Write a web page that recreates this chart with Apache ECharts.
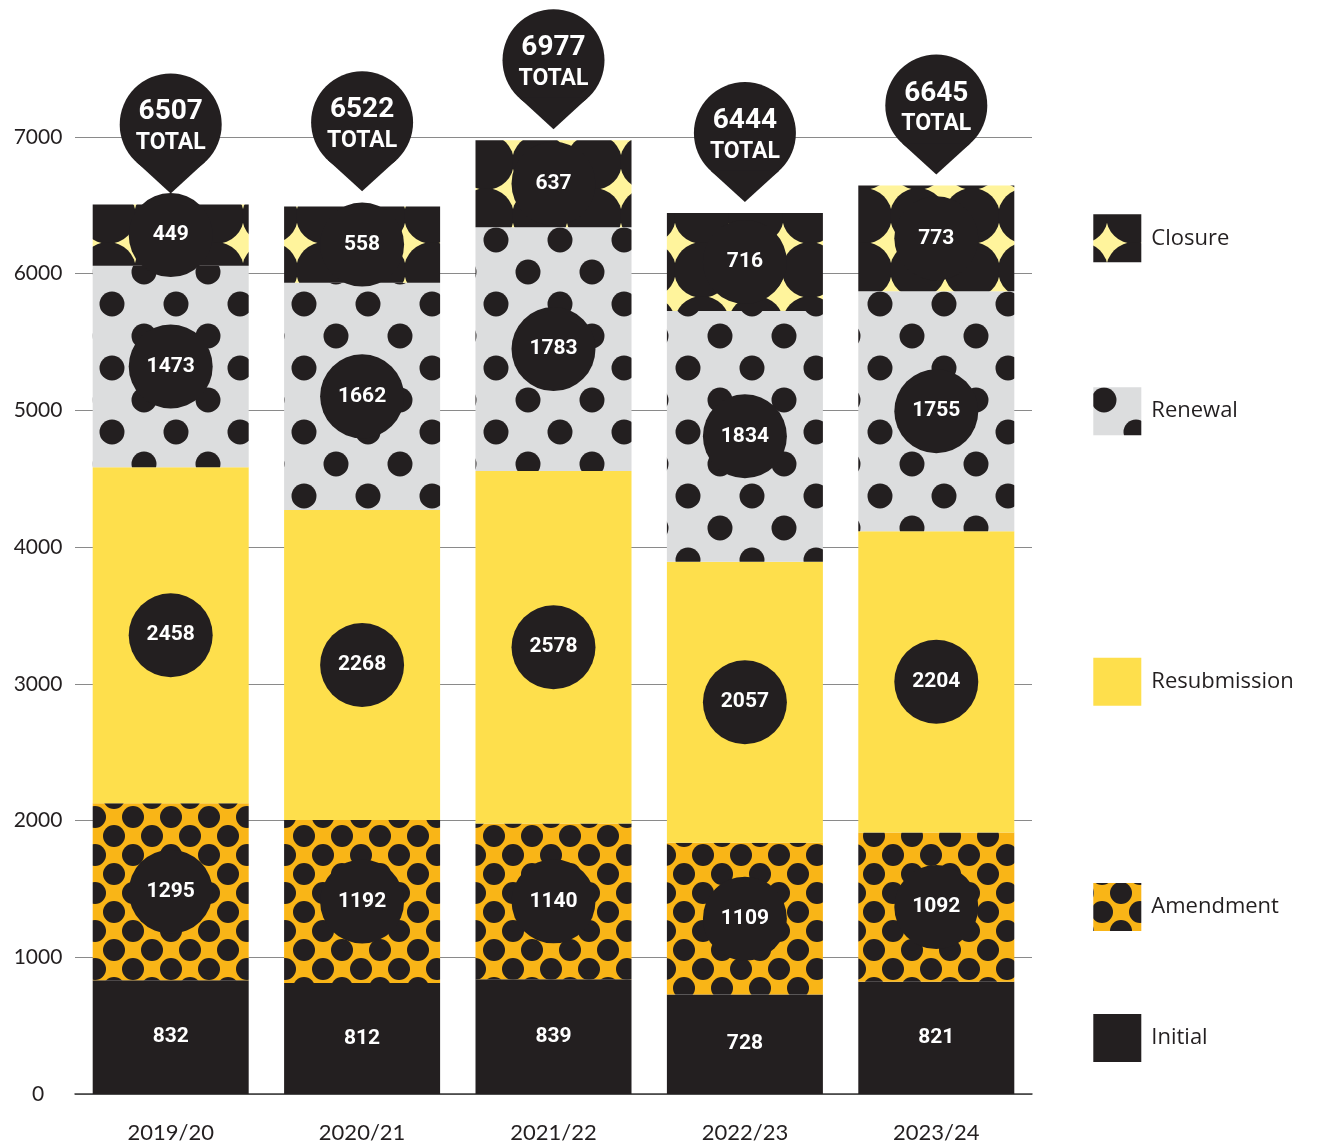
<!DOCTYPE html>
<html>
<head>
<meta charset="utf-8">
<script src="https://cdn.jsdelivr.net/npm/echarts@6/dist/echarts.min.js"></script>
<style>
  html, body { margin: 0; padding: 0; background: #ffffff; }
  #chart { width: 1326px; height: 1148px; }
</style>
</head>
<body>
<div id="chart"></div>
<script>
// ---- Data ----
const categories = ['2019/20', '2020/21', '2021/22', '2022/23', '2023/24'];
const initial = [832, 812, 839, 728, 821];
const amendment = [1295, 1192, 1140, 1109, 1092];
const resubmission = [2458, 2268, 2578, 2057, 2204];
const renewal = [1473, 1662, 1783, 1834, 1755];
const closure = [449, 558, 637, 716, 773];
const totals = [6507, 6522, 6977, 6444, 6645];
const yMin = 0, yMax = 7000, yStep = 1000;

// ---- Styles ----
const INK = '#231f20';
const NUM_FONT = 'Roboto, "DejaVu Sans", sans-serif';
const TXT_FONT = 'Lato, "Open Sans", sans-serif';
const LEG_FONT = '"Open Sans", Lato, sans-serif';

function makePattern(w, h, bg, dots, r) {
  const c = document.createElement('canvas');
  c.width = w; c.height = h;
  const ctx = c.getContext('2d');
  ctx.fillStyle = bg;
  ctx.fillRect(0, 0, w, h);
  ctx.fillStyle = INK;
  dots.forEach(([x, y]) => {
    for (let dx = -1; dx <= 1; dx++) {
      for (let dy = -1; dy <= 1; dy++) {
        ctx.beginPath();
        ctx.arc(x + dx * w, y + dy * h, r, 0, Math.PI * 2);
        ctx.fill();
      }
    }
  });
  return { image: c, repeat: 'repeat' };
}

const amendFill = makePattern(38, 38, '#f9b517', [[0, 0], [19, 19]], 11);
const renewFill = makePattern(64, 64, '#dcddde', [[16, 16], [48, 48]], 12.5);
const closeFill = makePattern(54, 54, '#fff49c', [[0, 0]], 28);

const seriesDefs = [
  { name: 'Initial', data: initial, fill: INK, circle: false },
  { name: 'Amendment', data: amendment, fill: amendFill, circle: true },
  { name: 'Resubmission', data: resubmission, fill: '#fedf4c', circle: true },
  { name: 'Renewal', data: renewal, fill: renewFill, circle: true },
  { name: 'Closure', data: closure, fill: closeFill, circle: true }
];

function circleLabel(withCircle) {
  const base = {
    show: true,
    position: 'inside',
    formatter: '{c}',
    color: '#ffffff',
    fontFamily: NUM_FONT,
    fontWeight: 'bold',
    fontSize: 21
  };
  if (withCircle) {
    Object.assign(base, {
      backgroundColor: INK,
      width: 84,
      height: 84,
      lineHeight: 84,
      borderRadius: 42,
      align: 'center',
      verticalAlign: 'middle'
    });
  }
  return base;
}

const barSeries = seriesDefs.map(s => ({
  name: s.name,
  type: 'bar',
  stack: 'all',
  barWidth: 156,
  data: s.data,
  itemStyle: { color: s.fill },
  label: circleLabel(s.circle),
  emphasis: { disabled: true },
  z: 2
}));

// legend rows aligned to the mid of each segment in the last bar
const lastIdx = categories.length - 1;
const legendRows = [];
let cum = 0;
seriesDefs.forEach((s, k) => {
  legendRows.push([lastIdx, cum + s.data[lastIdx] / 2, k]);
  cum += s.data[lastIdx];
});

const pinSeries = {
  type: 'custom',
  name: 'totals',
  data: totals.map((t, i) => [i, t]),
  clip: false,
  z: 10,
  silent: true,
  renderItem(params, api) {
    const p = api.coord([api.value(0), api.value(1)]);
    const cx = p[0];
    const tip = p[1] - 11;
    const cy = tip - 69;
    const r = 51;
    return {
      type: 'group',
      children: [
        { type: 'circle', shape: { cx: cx, cy: cy, r: r }, style: { fill: INK } },
        { type: 'polygon', shape: { points: [[cx - 34.3, cy + 37.7], [cx + 34.3, cy + 37.7], [cx, tip]] }, style: { fill: INK } },
        { type: 'text', style: { text: String(api.value(1)), x: cx, y: cy - 12, align: 'center', verticalAlign: 'middle', fill: '#ffffff', fontSize: 28, fontWeight: 'bold', fontFamily: NUM_FONT } },
        { type: 'text', style: { text: 'TOTAL', x: cx, y: cy + 19, align: 'center', verticalAlign: 'middle', fill: '#ffffff', fontSize: 23, fontWeight: 'bold', fontFamily: NUM_FONT } }
      ]
    };
  }
};

const legendSeries = {
  type: 'custom',
  name: 'legend',
  data: legendRows,
  clip: false,
  z: 10,
  silent: true,
  renderItem(params, api) {
    const p = api.coord([api.value(0), api.value(1)]);
    const s = seriesDefs[api.value(2)];
    const x0 = p[0] + 157;
    return {
      type: 'group',
      children: [
        { type: 'rect', shape: { x: x0, y: p[1] - 24, width: 48, height: 48 }, style: { fill: s.fill } },
        { type: 'text', style: { text: s.name, x: x0 + 58, y: p[1], align: 'left', verticalAlign: 'middle', fill: INK, fontSize: 22, fontFamily: LEG_FONT } }
      ]
    };
  }
};

const chart = echarts.init(document.getElementById('chart'), null, { renderer: 'canvas' });
chart.setOption({
  backgroundColor: '#ffffff',
  animation: false,
  grid: { left: 75, right: 294, top: 137, bottom: 54, containLabel: false },
  xAxis: {
    type: 'category',
    data: categories,
    axisLine: { show: true, lineStyle: { color: '#3a3a3a', width: 1.5 } },
    axisTick: { show: false },
    axisLabel: { color: INK, fontSize: 22, fontFamily: TXT_FONT, margin: 28 }
  },
  yAxis: {
    type: 'value',
    min: yMin,
    max: yMax,
    interval: yStep,
    axisLine: { show: false },
    axisTick: { show: false },
    axisLabel: { color: INK, fontSize: 21, fontFamily: TXT_FONT, align: 'center', margin: 37, formatter: v => String(v) },
    splitLine: { show: true, lineStyle: { color: '#8a8a8a', width: 1.2 } }
  },
  series: [...barSeries, pinSeries, legendSeries]
});
</script>
</body>
</html>
